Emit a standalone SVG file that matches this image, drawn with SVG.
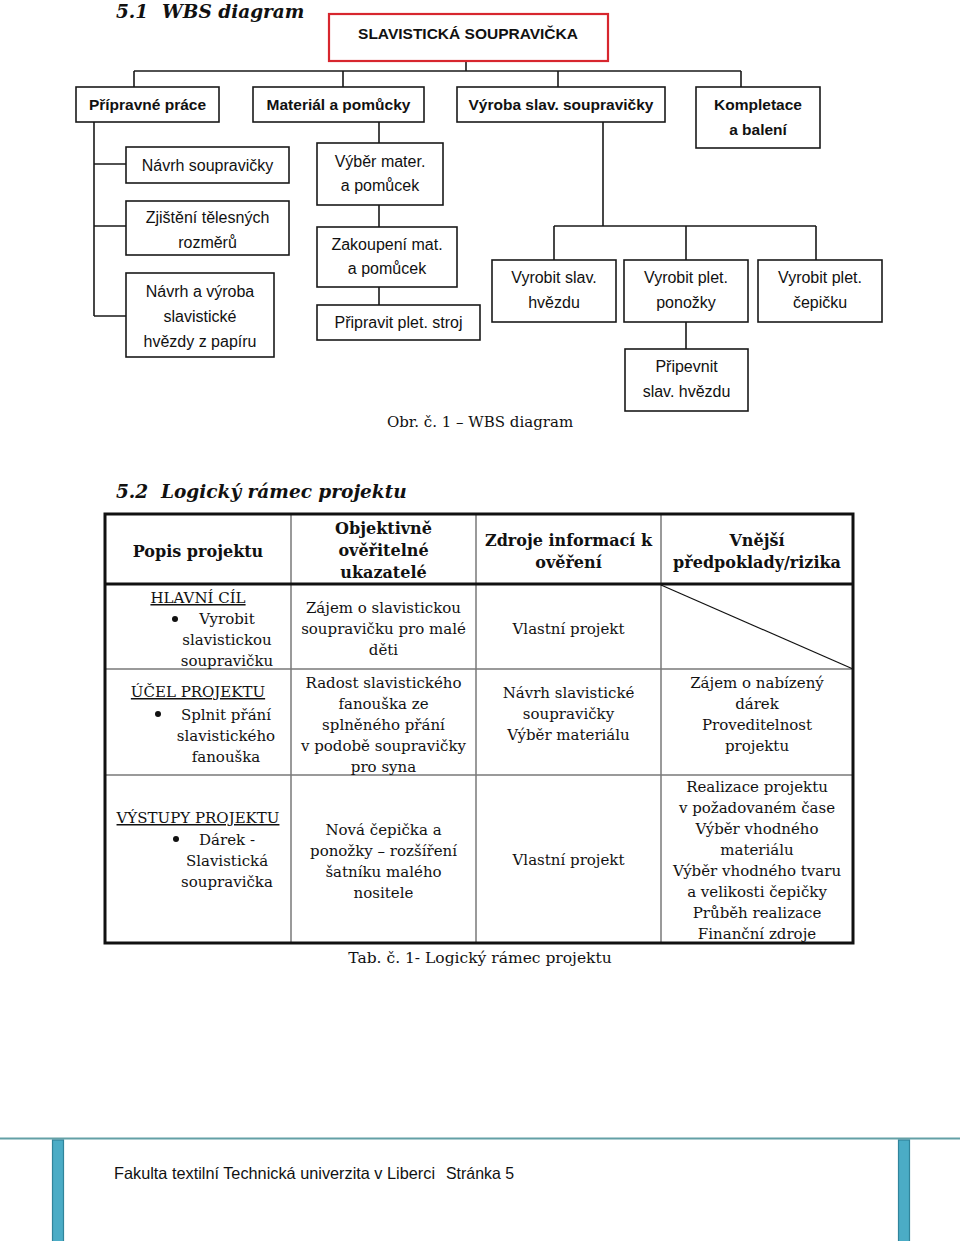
<svg xmlns="http://www.w3.org/2000/svg" width="960" height="1241" viewBox="0 0 960 1241">
<style>
.bx{fill:#fff;stroke:#1a1a1a;stroke-width:1.6}
.red{fill:#fff;stroke:#d7262e;stroke-width:2.2}
.ln{stroke:#1a1a1a;stroke-width:1.6;fill:none}
.s{font-family:"Liberation Sans",Arial,sans-serif;font-size:16px;fill:#111;text-anchor:middle}
.sb{font-family:"Liberation Sans",Arial,sans-serif;font-size:15.5px;font-weight:bold;fill:#111;text-anchor:middle}
.h{font-family:"DejaVu Serif",serif;font-size:18.5px;font-weight:bold;font-style:italic;fill:#111}
.t{font-family:"DejaVu Serif",serif;font-size:15px;fill:#111;text-anchor:middle}
.th{font-family:"DejaVu Serif",serif;font-size:16px;font-weight:bold;fill:#111;text-anchor:middle}
.u{text-decoration:underline}
.grid{stroke:#7a7a7a;stroke-width:1.5;fill:none}
.thick{stroke:#111;stroke-width:3;fill:none}
.f{font-family:"Liberation Sans",Arial,sans-serif;font-size:16.5px;fill:#111}
</style>

<text class="h" x="116" y="18">5.1</text>
<text class="h" x="162" y="18">WBS diagram</text>

<g id="connectors">
<path class="ln" d="M466 61V71M134 71H741M134 71V87M343 71V87M558 71V87M741 71V87"/>
<path class="ln" d="M94 122V316M94 164H126M94 226H126M94 316H126"/>
<path class="ln" d="M379 122V143M379 205V227M379 287V305"/>
<path class="ln" d="M603 122V226M554 226H816M554 226V260M686 226V260M816 226V260M686 322V349"/>
</g>

<g id="root"><rect class="red" x="329" y="14" width="279" height="47"/><text class="sb" x="468" y="39">SLAVISTICKÁ SOUPRAVIČKA</text></g>
<g id="n-pripravne"><rect class="bx" x="76" y="87" width="143" height="35"/><text class="sb" x="147.5" y="110">Přípravné práce</text></g>
<g id="n-material"><rect class="bx" x="253" y="87" width="171" height="35"/><text class="sb" x="338.5" y="110">Materiál a pomůcky</text></g>
<g id="n-vyroba"><rect class="bx" x="457" y="87" width="208" height="35"/><text class="sb" x="561" y="110">Výroba slav. soupravičky</text></g>
<g id="n-kompletace"><rect class="bx" x="696" y="87" width="124" height="61"/><text class="sb" x="758" y="110">Kompletace</text><text class="sb" x="758" y="135">a balení</text></g>

<g id="n-navrh"><rect class="bx" x="126" y="147" width="163" height="36"/><text class="s" x="207.5" y="171">Návrh soupravičky</text></g>
<g id="n-zjisteni"><rect class="bx" x="126" y="201" width="163" height="54"/><text class="s" x="207.5" y="223">Zjištění tělesných</text><text class="s" x="207.5" y="248">rozměrů</text></g>
<g id="n-hvezdy"><rect class="bx" x="126" y="273" width="148" height="84"/><text class="s" x="200" y="297">Návrh a výroba</text><text class="s" x="200" y="322">slavistické</text><text class="s" x="200" y="347">hvězdy z papíru</text></g>

<g id="n-vyber"><rect class="bx" x="317" y="143" width="126" height="62"/><text class="s" x="380" y="167">Výběr mater.</text><text class="s" x="380" y="191">a pomůcek</text></g>
<g id="n-zakoupeni"><rect class="bx" x="317" y="227" width="140" height="60"/><text class="s" x="387" y="250">Zakoupení mat.</text><text class="s" x="387" y="274">a pomůcek</text></g>
<g id="n-pripravit"><rect class="bx" x="317" y="305" width="163" height="35"/><text class="s" x="398.5" y="328">Připravit plet. stroj</text></g>

<g id="n-vyrobit-hvezdu"><rect class="bx" x="492" y="260" width="124" height="62"/><text class="s" x="554" y="283">Vyrobit slav.</text><text class="s" x="554" y="308">hvězdu</text></g>
<g id="n-vyrobit-ponozky"><rect class="bx" x="624" y="260" width="124" height="62"/><text class="s" x="686" y="283">Vyrobit plet.</text><text class="s" x="686" y="308">ponožky</text></g>
<g id="n-vyrobit-cepicku"><rect class="bx" x="758" y="260" width="124" height="62"/><text class="s" x="820" y="283">Vyrobit plet.</text><text class="s" x="820" y="308">čepičku</text></g>
<g id="n-pripevnit"><rect class="bx" x="625" y="349" width="123" height="62"/><text class="s" x="686.5" y="372">Připevnit</text><text class="s" x="686.5" y="397">slav. hvězdu</text></g>

<text class="t" x="480" y="427">Obr. č. 1 – WBS diagram</text>

<text class="h" x="116" y="498">5.2</text>
<text class="h" x="161" y="498">Logický rámec projektu</text>

<g id="table">
<path class="grid" d="M291 514V943M476 514V943M661 514V943M105 669H853M105 775H853"/>
<path stroke="#111" stroke-width="1.2" d="M661 585L853 669"/>
<path class="thick" d="M105 584H853"/>
<rect class="thick" x="105" y="514" width="748" height="429"/>

<text class="th" x="198" y="557">Popis projektu</text>
<text class="th" x="383.5" y="534">Objektivně</text>
<text class="th" x="383.5" y="556">ověřitelné</text>
<text class="th" x="383.5" y="578">ukazatelé</text>
<text class="th" x="568.5" y="546">Zdroje informací k</text>
<text class="th" x="568.5" y="568">ověření</text>
<text class="th" x="757" y="546">Vnější</text>
<text class="th" x="757" y="568">předpoklady/rizika</text>

<text class="t u" x="198" y="603">HLAVNÍ CÍL</text>
<circle cx="175" cy="619" r="3" fill="#111"/>
<text class="t" x="227" y="624">Vyrobit</text>
<text class="t" x="227" y="645">slavistickou</text>
<text class="t" x="227" y="666">soupravičku</text>
<text class="t" x="383.5" y="613">Zájem o slavistickou</text>
<text class="t" x="383.5" y="634">soupravičku pro malé</text>
<text class="t" x="383.5" y="655">děti</text>
<text class="t" x="568.5" y="634">Vlastní projekt</text>

<text class="t u" x="198" y="697">ÚČEL PROJEKTU</text>
<circle cx="158" cy="714" r="3" fill="#111"/>
<text class="t" x="226" y="720">Splnit přání</text>
<text class="t" x="226" y="741">slavistického</text>
<text class="t" x="226" y="762">fanouška</text>
<text class="t" x="383.5" y="688">Radost slavistického</text>
<text class="t" x="383.5" y="709">fanouška ze</text>
<text class="t" x="383.5" y="730">splněného přání</text>
<text class="t" x="383.5" y="751">v podobě soupravičky</text>
<text class="t" x="383.5" y="772">pro syna</text>
<text class="t" x="568.5" y="698">Návrh slavistické</text>
<text class="t" x="568.5" y="719">soupravičky</text>
<text class="t" x="568.5" y="740">Výběr materiálu</text>
<text class="t" x="757" y="688">Zájem o nabízený</text>
<text class="t" x="757" y="709">dárek</text>
<text class="t" x="757" y="730">Proveditelnost</text>
<text class="t" x="757" y="751">projektu</text>

<text class="t u" x="198" y="823">VÝSTUPY PROJEKTU</text>
<circle cx="176" cy="839" r="3" fill="#111"/>
<text class="t" x="227" y="845">Dárek -</text>
<text class="t" x="227" y="866">Slavistická</text>
<text class="t" x="227" y="887">soupravička</text>
<text class="t" x="383.5" y="835">Nová čepička a</text>
<text class="t" x="383.5" y="856">ponožky – rozšíření</text>
<text class="t" x="383.5" y="877">šatníku malého</text>
<text class="t" x="383.5" y="898">nositele</text>
<text class="t" x="568.5" y="865">Vlastní projekt</text>
<text class="t" x="757" y="792">Realizace projektu</text>
<text class="t" x="757" y="813">v požadovaném čase</text>
<text class="t" x="757" y="834">Výběr vhodného</text>
<text class="t" x="757" y="855">materiálu</text>
<text class="t" x="757" y="876">Výběr vhodného tvaru</text>
<text class="t" x="757" y="897">a velikosti čepičky</text>
<text class="t" x="757" y="918">Průběh realizace</text>
<text class="t" x="757" y="939">Finanční zdroje</text>
</g>

<text class="t" x="480" y="963" style="font-size:15.5px">Tab. č. 1- Logický rámec projektu</text>

<g id="footer">
<path d="M0 1138.5H960" stroke="#63a0a6" stroke-width="2"/>
<rect x="52.5" y="1140" width="11" height="102" fill="#4bacc6" stroke="#31849b" stroke-width="1.2"/>
<rect x="898.5" y="1140" width="11" height="102" fill="#4bacc6" stroke="#31849b" stroke-width="1.2"/>
<text class="f" x="114" y="1179" textLength="321" lengthAdjust="spacingAndGlyphs">Fakulta textilní Technická univerzita v Liberci</text>
<text class="f" x="446" y="1179" textLength="68" lengthAdjust="spacingAndGlyphs">Stránka 5</text>
</g>
</svg>
